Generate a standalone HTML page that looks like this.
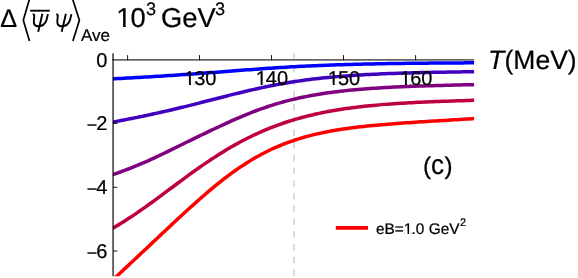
<!DOCTYPE html>
<html><head><meta charset="utf-8"><title>plot</title>
<style>
html,body{margin:0;padding:0;background:#fff;}
svg{display:block;will-change:transform;}
text{font-family:"Liberation Sans",sans-serif;fill:#000;stroke:#000;stroke-width:0.22px;text-rendering:geometricPrecision;}
.c path{fill:none;stroke-width:3.5px;stroke-linejoin:round;}
</style></head><body>
<svg width="578" height="278" viewBox="0 0 578 278">
<defs>
<clipPath id="plot"><rect x="112.9" y="50" width="361.2" height="226.2"/></clipPath>
<clipPath id="k0"><rect x="183.12" y="68.80" width="11.12" height="13.61"/><rect x="189.04" y="82.31" width="1.97" height="3.39"/><rect x="194.24" y="68.80" width="12.12" height="22.00"/><rect x="205.36" y="68.80" width="12.12" height="22.00"/></clipPath>
<clipPath id="k1"><rect x="254.72" y="68.80" width="11.12" height="13.61"/><rect x="260.64" y="82.31" width="1.97" height="3.39"/><rect x="265.84" y="68.80" width="12.12" height="22.00"/><rect x="276.96" y="68.80" width="12.12" height="22.00"/></clipPath>
<clipPath id="k2"><rect x="326.82" y="68.80" width="11.12" height="13.61"/><rect x="332.74" y="82.31" width="1.97" height="3.39"/><rect x="337.94" y="68.80" width="12.12" height="22.00"/><rect x="349.06" y="68.80" width="12.12" height="22.00"/></clipPath>
<clipPath id="k3"><rect x="399.02" y="68.80" width="11.12" height="13.61"/><rect x="404.94" y="82.31" width="1.97" height="3.39"/><rect x="410.14" y="68.80" width="12.12" height="22.00"/><rect x="421.26" y="68.80" width="12.12" height="22.00"/></clipPath>
<clipPath id="k4"><rect x="115.30" y="4.96" width="14.82" height="18.90"/><rect x="123.06" y="23.76" width="2.61" height="3.94"/></clipPath>
<clipPath id="k5"><rect x="375.90" y="221.18" width="9.56" height="16.94"/><rect x="384.46" y="221.18" width="11.27" height="16.94"/><rect x="394.74" y="221.18" width="9.99" height="16.94"/><rect x="402.73" y="221.18" width="8.79" height="10.27"/><rect x="407.50" y="231.35" width="1.56" height="3.05"/><rect x="411.52" y="221.18" width="5.28" height="16.94"/><rect x="415.80" y="221.18" width="9.56" height="16.94"/><rect x="424.37" y="221.18" width="5.28" height="16.94"/><rect x="428.65" y="221.18" width="12.98" height="16.94"/><rect x="440.63" y="221.18" width="9.56" height="16.94"/><rect x="449.19" y="221.18" width="11.27" height="16.94"/></clipPath>
</defs>
<rect width="578" height="278" fill="#fff"/>
<!-- dashed vertical guide -->
<line x1="294.0" y1="53.1" x2="294.0" y2="276.6" stroke="#d2d2d2" stroke-width="1.6" stroke-dasharray="6.45 6.28"/>
<!-- curves -->
<g class="c" clip-path="url(#plot)">
<path d="M109.0,79.02 L112.0,78.87 L115.0,78.72 L118.0,78.56 L121.0,78.41 L124.0,78.25 L127.0,78.09 L130.0,77.93 L133.0,77.77 L136.0,77.60 L139.0,77.43 L142.0,77.26 L145.0,77.09 L148.0,76.91 L151.0,76.74 L154.0,76.55 L157.0,76.37 L160.0,76.18 L163.0,75.99 L166.0,75.80 L169.0,75.61 L172.0,75.41 L175.0,75.21 L178.0,75.01 L181.0,74.80 L184.0,74.59 L187.0,74.38 L190.0,74.17 L193.0,73.95 L196.0,73.73 L199.0,73.51 L202.0,73.29 L205.0,73.07 L208.0,72.84 L211.0,72.61 L214.0,72.39 L217.0,72.16 L220.0,71.93 L223.0,71.70 L226.0,71.47 L229.0,71.23 L232.0,71.00 L235.0,70.77 L238.0,70.55 L241.0,70.32 L244.0,70.09 L247.0,69.87 L250.0,69.64 L253.0,69.42 L256.0,69.20 L259.0,68.99 L262.0,68.78 L265.0,68.57 L268.0,68.36 L271.0,68.16 L274.0,67.96 L277.0,67.77 L280.0,67.58 L283.0,67.39 L286.0,67.21 L289.0,67.03 L292.0,66.86 L295.0,66.69 L298.0,66.53 L301.0,66.37 L304.0,66.22 L307.0,66.07 L310.0,65.92 L313.0,65.79 L316.0,65.65 L319.0,65.52 L322.0,65.40 L325.0,65.28 L328.0,65.16 L331.0,65.05 L334.0,64.94 L337.0,64.84 L340.0,64.74 L343.0,64.64 L346.0,64.55 L349.0,64.47 L352.0,64.38 L355.0,64.30 L358.0,64.22 L361.0,64.15 L364.0,64.08 L367.0,64.01 L370.0,63.95 L373.0,63.89 L376.0,63.83 L379.0,63.77 L382.0,63.72 L385.0,63.66 L388.0,63.61 L391.0,63.57 L394.0,63.52 L397.0,63.48 L400.0,63.44 L403.0,63.40 L406.0,63.36 L409.0,63.32 L412.0,63.29 L415.0,63.26 L418.0,63.22 L421.0,63.19 L424.0,63.17 L427.0,63.14 L430.0,63.11 L433.0,63.08 L436.0,63.06 L439.0,63.04 L442.0,63.01 L445.0,62.99 L448.0,62.97 L451.0,62.95 L454.0,62.93 L457.0,62.91 L460.0,62.89 L463.0,62.88 L466.0,62.86 L469.0,62.84 L472.0,62.83 L475.0,62.81 L478.0,62.80" stroke="#0000ff"/>
<path d="M109.0,122.79 L112.0,122.24 L115.0,121.68 L118.0,121.12 L121.0,120.55 L124.0,119.97 L127.0,119.39 L130.0,118.80 L133.0,118.20 L136.0,117.60 L139.0,116.99 L142.0,116.37 L145.0,115.74 L148.0,115.10 L151.0,114.46 L154.0,113.81 L157.0,113.15 L160.0,112.48 L163.0,111.80 L166.0,111.11 L169.0,110.42 L172.0,109.72 L175.0,109.01 L178.0,108.29 L181.0,107.56 L184.0,106.83 L187.0,106.09 L190.0,105.35 L193.0,104.60 L196.0,103.84 L199.0,103.08 L202.0,102.32 L205.0,101.56 L208.0,100.79 L211.0,100.02 L214.0,99.25 L217.0,98.48 L220.0,97.71 L223.0,96.94 L226.0,96.18 L229.0,95.42 L232.0,94.67 L235.0,93.92 L238.0,93.18 L241.0,92.45 L244.0,91.73 L247.0,91.02 L250.0,90.32 L253.0,89.63 L256.0,88.96 L259.0,88.29 L262.0,87.65 L265.0,87.01 L268.0,86.39 L271.0,85.79 L274.0,85.20 L277.0,84.63 L280.0,84.08 L283.0,83.54 L286.0,83.02 L289.0,82.52 L292.0,82.03 L295.0,81.56 L298.0,81.11 L301.0,80.67 L304.0,80.25 L307.0,79.85 L310.0,79.46 L313.0,79.09 L316.0,78.73 L319.0,78.39 L322.0,78.06 L325.0,77.74 L328.0,77.44 L331.0,77.16 L334.0,76.88 L337.0,76.62 L340.0,76.37 L343.0,76.13 L346.0,75.90 L349.0,75.68 L352.0,75.48 L355.0,75.28 L358.0,75.09 L361.0,74.91 L364.0,74.74 L367.0,74.57 L370.0,74.42 L373.0,74.27 L376.0,74.13 L379.0,73.99 L382.0,73.86 L385.0,73.74 L388.0,73.62 L391.0,73.51 L394.0,73.40 L397.0,73.30 L400.0,73.20 L403.0,73.11 L406.0,73.02 L409.0,72.93 L412.0,72.85 L415.0,72.77 L418.0,72.70 L421.0,72.62 L424.0,72.55 L427.0,72.49 L430.0,72.42 L433.0,72.36 L436.0,72.30 L439.0,72.24 L442.0,72.19 L445.0,72.13 L448.0,72.08 L451.0,72.03 L454.0,71.98 L457.0,71.94 L460.0,71.89 L463.0,71.85 L466.0,71.80 L469.0,71.76 L472.0,71.72 L475.0,71.68 L478.0,71.66" stroke="#4000bf"/>
<path d="M109.0,175.86 L112.0,174.86 L115.0,173.85 L118.0,172.80 L121.0,171.73 L124.0,170.64 L127.0,169.51 L130.0,168.36 L133.0,167.17 L136.0,165.96 L139.0,164.71 L142.0,163.43 L145.0,162.12 L148.0,160.79 L151.0,159.42 L154.0,158.04 L157.0,156.63 L160.0,155.21 L163.0,153.77 L166.0,152.32 L169.0,150.86 L172.0,149.39 L175.0,147.92 L178.0,146.45 L181.0,144.97 L184.0,143.50 L187.0,142.03 L190.0,140.56 L193.0,139.10 L196.0,137.64 L199.0,136.19 L202.0,134.74 L205.0,133.31 L208.0,131.87 L211.0,130.45 L214.0,129.03 L217.0,127.62 L220.0,126.22 L223.0,124.82 L226.0,123.44 L229.0,122.07 L232.0,120.72 L235.0,119.39 L238.0,118.08 L241.0,116.79 L244.0,115.52 L247.0,114.29 L250.0,113.08 L253.0,111.90 L256.0,110.76 L259.0,109.65 L262.0,108.57 L265.0,107.53 L268.0,106.52 L271.0,105.54 L274.0,104.60 L277.0,103.69 L280.0,102.82 L283.0,101.98 L286.0,101.17 L289.0,100.39 L292.0,99.64 L295.0,98.93 L298.0,98.24 L301.0,97.58 L304.0,96.95 L307.0,96.35 L310.0,95.78 L313.0,95.23 L316.0,94.70 L319.0,94.20 L322.0,93.73 L325.0,93.27 L328.0,92.84 L331.0,92.42 L334.0,92.03 L337.0,91.65 L340.0,91.30 L343.0,90.96 L346.0,90.63 L349.0,90.32 L352.0,90.03 L355.0,89.75 L358.0,89.48 L361.0,89.23 L364.0,88.99 L367.0,88.76 L370.0,88.54 L373.0,88.33 L376.0,88.13 L379.0,87.94 L382.0,87.76 L385.0,87.59 L388.0,87.42 L391.0,87.26 L394.0,87.11 L397.0,86.97 L400.0,86.83 L403.0,86.70 L406.0,86.57 L409.0,86.45 L412.0,86.34 L415.0,86.22 L418.0,86.12 L421.0,86.01 L424.0,85.91 L427.0,85.81 L430.0,85.72 L433.0,85.63 L436.0,85.54 L439.0,85.46 L442.0,85.38 L445.0,85.30 L448.0,85.22 L451.0,85.15 L454.0,85.08 L457.0,85.01 L460.0,84.94 L463.0,84.87 L466.0,84.81 L469.0,84.75 L472.0,84.69 L475.0,84.63 L478.0,84.58" stroke="#800080"/>
<path d="M109.0,230.34 L112.0,228.64 L115.0,226.90 L118.0,225.13 L121.0,223.31 L124.0,221.45 L127.0,219.54 L130.0,217.59 L133.0,215.60 L136.0,213.58 L139.0,211.52 L142.0,209.43 L145.0,207.31 L148.0,205.17 L151.0,203.00 L154.0,200.82 L157.0,198.62 L160.0,196.41 L163.0,194.18 L166.0,191.95 L169.0,189.71 L172.0,187.48 L175.0,185.24 L178.0,183.01 L181.0,180.79 L184.0,178.58 L187.0,176.38 L190.0,174.20 L193.0,172.04 L196.0,169.90 L199.0,167.78 L202.0,165.68 L205.0,163.62 L208.0,161.58 L211.0,159.58 L214.0,157.61 L217.0,155.67 L220.0,153.78 L223.0,151.91 L226.0,150.09 L229.0,148.30 L232.0,146.56 L235.0,144.86 L238.0,143.19 L241.0,141.57 L244.0,139.99 L247.0,138.46 L250.0,136.96 L253.0,135.51 L256.0,134.10 L259.0,132.74 L262.0,131.41 L265.0,130.13 L268.0,128.88 L271.0,127.68 L274.0,126.52 L277.0,125.39 L280.0,124.31 L283.0,123.26 L286.0,122.25 L289.0,121.28 L292.0,120.35 L295.0,119.44 L298.0,118.58 L301.0,117.74 L304.0,116.94 L307.0,116.17 L310.0,115.43 L313.0,114.71 L316.0,114.03 L319.0,113.38 L322.0,112.75 L325.0,112.15 L328.0,111.57 L331.0,111.02 L334.0,110.49 L337.0,109.99 L340.0,109.51 L343.0,109.04 L346.0,108.60 L349.0,108.18 L352.0,107.78 L355.0,107.39 L358.0,107.02 L361.0,106.67 L364.0,106.33 L367.0,106.01 L370.0,105.71 L373.0,105.42 L376.0,105.14 L379.0,104.87 L382.0,104.62 L385.0,104.38 L388.0,104.15 L391.0,103.93 L394.0,103.72 L397.0,103.51 L400.0,103.32 L403.0,103.14 L406.0,102.96 L409.0,102.80 L412.0,102.64 L415.0,102.48 L418.0,102.33 L421.0,102.19 L424.0,102.06 L427.0,101.93 L430.0,101.80 L433.0,101.68 L436.0,101.56 L439.0,101.45 L442.0,101.34 L445.0,101.23 L448.0,101.13 L451.0,101.02 L454.0,100.92 L457.0,100.83 L460.0,100.73 L463.0,100.64 L466.0,100.54 L469.0,100.45 L472.0,100.36 L475.0,100.28 L478.0,100.24" stroke="#bf0040"/>
<path d="M109.0,283.27 L112.0,280.52 L115.0,277.76 L118.0,274.98 L121.0,272.19 L124.0,269.40 L127.0,266.61 L130.0,263.81 L133.0,261.00 L136.0,258.20 L139.0,255.38 L142.0,252.57 L145.0,249.75 L148.0,246.93 L151.0,244.11 L154.0,241.28 L157.0,238.46 L160.0,235.64 L163.0,232.82 L166.0,230.00 L169.0,227.19 L172.0,224.39 L175.0,221.59 L178.0,218.80 L181.0,216.03 L184.0,213.27 L187.0,210.52 L190.0,207.79 L193.0,205.09 L196.0,202.40 L199.0,199.74 L202.0,197.11 L205.0,194.52 L208.0,191.95 L211.0,189.42 L214.0,186.93 L217.0,184.48 L220.0,182.08 L223.0,179.72 L226.0,177.41 L229.0,175.15 L232.0,172.94 L235.0,170.79 L238.0,168.69 L241.0,166.65 L244.0,164.67 L247.0,162.75 L250.0,160.88 L253.0,159.08 L256.0,157.34 L259.0,155.66 L262.0,154.04 L265.0,152.48 L268.0,150.98 L271.0,149.54 L274.0,148.16 L277.0,146.84 L280.0,145.57 L283.0,144.36 L286.0,143.20 L289.0,142.09 L292.0,141.03 L295.0,140.02 L298.0,139.06 L301.0,138.14 L304.0,137.27 L307.0,136.43 L310.0,135.64 L313.0,134.89 L316.0,134.17 L319.0,133.49 L322.0,132.84 L325.0,132.22 L328.0,131.63 L331.0,131.08 L334.0,130.54 L337.0,130.04 L340.0,129.56 L343.0,129.10 L346.0,128.66 L349.0,128.24 L352.0,127.84 L355.0,127.46 L358.0,127.10 L361.0,126.75 L364.0,126.42 L367.0,126.10 L370.0,125.79 L373.0,125.50 L376.0,125.22 L379.0,124.95 L382.0,124.68 L385.0,124.43 L388.0,124.18 L391.0,123.94 L394.0,123.71 L397.0,123.49 L400.0,123.27 L403.0,123.06 L406.0,122.85 L409.0,122.64 L412.0,122.44 L415.0,122.25 L418.0,122.05 L421.0,121.86 L424.0,121.67 L427.0,121.48 L430.0,121.30 L433.0,121.11 L436.0,120.93 L439.0,120.75 L442.0,120.56 L445.0,120.38 L448.0,120.20 L451.0,120.01 L454.0,119.83 L457.0,119.64 L460.0,119.45 L463.0,119.27 L466.0,119.08 L469.0,118.88 L472.0,118.69 L475.0,118.51 L478.0,118.39" stroke="#ff0000"/>
</g>
<!-- axes -->
<line x1="113.1" y1="53.2" x2="113.1" y2="276.2" stroke="#000" stroke-opacity="0.66" stroke-width="1.8"/>
<line x1="112.15" y1="59.8" x2="474" y2="59.8" stroke="#000" stroke-opacity="0.6" stroke-width="1.8"/>
<!-- ticks -->
<g stroke="#151515" stroke-width="1">
<line x1="127.6" y1="55.1" x2="127.6" y2="60.2"/>
<line x1="199.5" y1="55.1" x2="199.5" y2="60.2"/>
<line x1="271.5" y1="55.1" x2="271.5" y2="60.2"/>
<line x1="343.5" y1="55.1" x2="343.5" y2="60.2"/>
<line x1="415.6" y1="55.1" x2="415.6" y2="60.2"/>
<line x1="113.2" y1="123.4" x2="117.3" y2="123.4"/>
<line x1="113.2" y1="187.3" x2="117.3" y2="187.3"/>
<line x1="113.2" y1="251.0" x2="117.3" y2="251.0"/>
</g>
<!-- tick labels -->
<text x="184.12 194.24 205.36" y="84.8" font-size="20" clip-path="url(#k0)">130</text>
<text x="255.72 265.84 276.96" y="84.8" font-size="20" clip-path="url(#k1)">140</text>
<text x="327.82 337.94 349.06" y="84.8" font-size="20" clip-path="url(#k2)">150</text>
<text x="400.02 410.14 421.26" y="84.8" font-size="20" clip-path="url(#k3)">160</text>
<text x="96.28" y="66.6" font-size="20">0</text>
<text x="86.63" y="131.35" font-size="17.9">−</text><text x="96.18" y="130.3" font-size="20">2</text>
<text x="86.63" y="195.15" font-size="17.9">−</text><text x="96.18" y="194.1" font-size="20">4</text>
<text x="86.63" y="258.85" font-size="17.9">−</text><text x="96.18" y="257.8" font-size="20">6</text>
<!-- axis titles, panel tag, legend -->
<text x="0.20" y="26.8" font-size="25.3">Δ</text>
<polyline points="29.5,-1 23.3,20.2 29.5,41" fill="none" stroke="#000" stroke-width="1.7"/>
<polyline points="72.6,-1 79.4,20.2 72.9,41" fill="none" stroke="#000" stroke-width="1.7"/>
<line x1="30.2" y1="10.7" x2="49.7" y2="10.7" stroke="#000" stroke-width="1.9"/>
<g transform="translate(0,0)" fill="none" stroke="#000" stroke-width="1.9" stroke-linecap="butt" stroke-linejoin="round"><path d="M32.7,14.7 Q34.2,14.1 34.3,15.6 L33.8,21.3 Q33.5,26.2 38.5,26.2 Q44.4,26.2 46.5,20.1 L47.9,14.1"/><path d="M42.4,13.8 L38.2,31.7"/></g>
<g transform="translate(23.5,0)" fill="none" stroke="#000" stroke-width="1.9" stroke-linecap="butt" stroke-linejoin="round"><path d="M32.7,14.7 Q34.2,14.1 34.3,15.6 L33.8,21.3 Q33.5,26.2 38.5,26.2 Q44.4,26.2 46.5,20.1 L47.9,14.1"/><path d="M42.4,13.8 L38.2,31.7"/></g>
<text x="81.00" y="40.8" font-size="17">Ave</text>
<text x="116.30" y="26.8" font-size="27.3" clip-path="url(#k4)">1</text>
<text x="130.40" y="26.8" font-size="27.3">0</text>
<text x="146.10" y="15.2" font-size="18.1">3</text>
<text x="161.10" y="26.8" font-size="27.3">GeV</text>
<text x="214.90" y="15.0" font-size="18.1">3</text>
<text x="487.9" y="68.7" font-size="26.5" font-style="italic">T</text>
<text x="504.50" y="68.7" font-size="26.5">(MeV)</text>
<text x="423.06" y="173.6" font-size="24.3">(</text>
<text transform="translate(431.05,174) scale(1,1.07)" font-size="26">c</text>
<text x="444.50" y="173.6" font-size="24.3">)</text>
<line x1="335.8" y1="227.8" x2="368" y2="227.8" stroke="#ff0000" stroke-width="3.8"/>
<text x="375.90 384.46 394.74 403.73 411.52 415.80 424.37 428.65 440.63 449.19" y="233.5" font-size="15.4" clip-path="url(#k5)">eB=1.0 GeV</text>
<text x="459.90" y="225.8" font-size="11">2</text>
</svg>
</body></html>
